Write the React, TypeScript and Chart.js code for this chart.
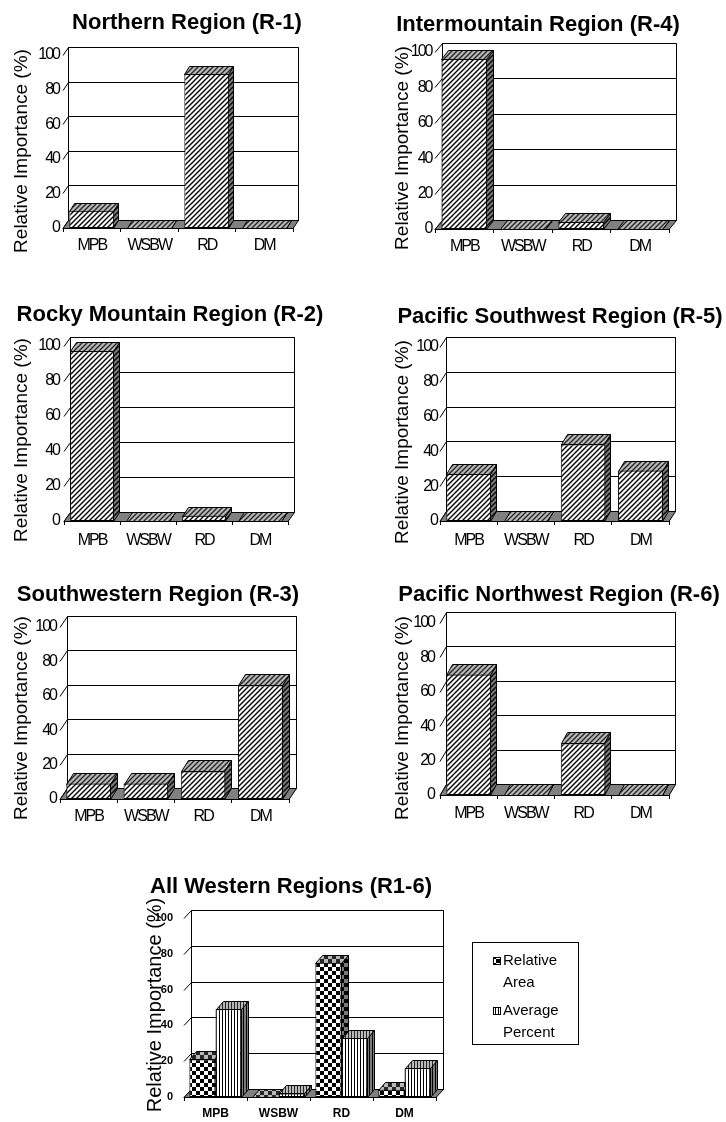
import React, { useEffect, useRef } from 'react';
import { Chart, registerables } from 'chart.js';

Chart.register(...registerables);

// ---------------- data ----------------
const categories = ['MPB', 'WSBW', 'RD', 'DM'];
const northernValues = [10, 0, 89, 0];
const intermountainValues = [96, 0, 4, 0];
const rockyMountainValues = [97, 0, 3, 0];
const pacificSouthwestValues = [27, 0, 44, 29];
const southwesternValues = [9, 9, 16, 66];
const pacificNorthwestValues = [70, 0, 30, 0];
const relativeAreaValues = [21, 0, 75, 4];
const averagePercentValues = [49, 2, 33, 16];
const yMin = 0;
const yMax = 100;
const yStep = 20;
const yAxisLabel = 'Relative Importance (%)';
const seriesNames = ['Relative Area', 'Average Percent'];
const legendLines = [['Relative', 'Area'], ['Average', 'Percent']];

// ---------------- styling / layout ----------------
const FONT = "'Liberation Sans', Arial, Helvetica, sans-serif";

type Kind = 'diag' | 'checker' | 'vstripe';

function makePattern(kind: Kind, bg: string, fg: string): any {
  const c = document.createElement('canvas');
  const g = c.getContext('2d')!;
  if (kind === 'diag') {
    const s = 5;
    c.width = s; c.height = s;
    g.fillStyle = bg; g.fillRect(0, 0, s, s);
    g.strokeStyle = fg; g.lineWidth = 1.4;
    g.beginPath();
    g.moveTo(-1, s + 1); g.lineTo(s + 1, -1);
    g.moveTo(-1, 1); g.lineTo(1, -1);
    g.moveTo(s - 1, s + 1); g.lineTo(s + 1, s - 1);
    g.stroke();
  } else if (kind === 'checker') {
    const s = 8;
    c.width = s; c.height = s;
    g.fillStyle = bg; g.fillRect(0, 0, s, s);
    g.fillStyle = fg; g.fillRect(0, 0, 4, 4); g.fillRect(4, 4, 4, 4);
  } else {
    c.width = 3; c.height = 3;
    g.fillStyle = bg; g.fillRect(0, 0, 3, 3);
    g.fillStyle = fg; g.fillRect(0, 0, 1, 3);
  }
  return g.createPattern(c, 'repeat');
}

interface Series { label: string; data: number[]; kind: Kind }
interface PanelDef {
  title: string;
  series: Series[];
  box: number[]; // left, top, width, height (page px)
  front: number[]; // fx0, fx1, fyTop, fy0
  depth: number[]; // dx, dy
  titleAt: number[];
  yLabelAt: number[];
  yLabelSize: number;
  catPct: number;
  labelPad: number;
  tickPad: number;
  summary?: boolean;
}

const panels: PanelDef[] = [
  {
    title: 'Northern Region (R-1)',
    series: [{ label: 'Northern', data: northernValues, kind: 'diag' }],
    box: [0, 0, 363, 275], front: [63, 293, 55, 228], depth: [5, 8],
    titleAt: [187, 29], yLabelAt: [22, 151], yLabelSize: 19, catPct: 0.78, labelPad: 4.4, tickPad: -4,
  },
  {
    title: 'Intermountain Region (R-4)',
    series: [{ label: 'Intermountain', data: intermountainValues, kind: 'diag' }],
    box: [363, 0, 363, 275], front: [435, 669, 52, 229], depth: [7, 9],
    titleAt: [538, 31], yLabelAt: [403, 148], yLabelSize: 19, catPct: 0.78, labelPad: 3.5, tickPad: -4.5,
  },
  {
    title: 'Rocky Mountain Region (R-2)',
    series: [{ label: 'Rocky Mountain', data: rockyMountainValues, kind: 'diag' }],
    box: [0, 280, 363, 280], front: [64, 288, 346, 521], depth: [6, 9],
    titleAt: [170, 321], yLabelAt: [22, 440], yLabelSize: 19, catPct: 0.78, labelPad: 6, tickPad: -3,
  },
  {
    title: 'Pacific Southwest Region (R-5)',
    series: [{ label: 'Pacific Southwest', data: pacificSouthwestValues, kind: 'diag' }],
    box: [363, 280, 363, 280], front: [440, 669, 347, 521], depth: [6, 10],
    titleAt: [560, 323], yLabelAt: [403, 442], yLabelSize: 19, catPct: 0.78, labelPad: 5.5, tickPad: -5,
  },
  {
    title: 'Southwestern Region (R-3)',
    series: [{ label: 'Southwestern', data: southwesternValues, kind: 'diag' }],
    box: [0, 560, 363, 290], front: [60, 289, 627, 799], depth: [7, 11],
    titleAt: [158, 601], yLabelAt: [22, 718], yLabelSize: 19, catPct: 0.78, labelPad: 4, tickPad: -4,
  },
  {
    title: 'Pacific Northwest Region (R-6)',
    series: [{ label: 'Pacific Northwest', data: pacificNorthwestValues, kind: 'diag' }],
    box: [363, 560, 363, 290], front: [440, 669, 623, 795], depth: [6, 11],
    titleAt: [559, 601], yLabelAt: [403, 718], yLabelSize: 19, catPct: 0.78, labelPad: 5, tickPad: -2,
  },
  {
    title: 'All Western Regions (R1-6)',
    series: [
      { label: seriesNames[0], data: relativeAreaValues, kind: 'checker' },
      { label: seriesNames[1], data: averagePercentValues, kind: 'vstripe' },
    ],
    box: [0, 855, 726, 267], front: [184, 436, 918, 1097], depth: [7, 8],
    titleAt: [291, 893], yLabelAt: [155, 1005], yLabelSize: 20, catPct: 0.83, labelPad: 5.5, tickPad: 3,
    summary: true,
  },
];

const LEGEND_BOX = [472.5, 942.5, 106, 102];

function PanelChart({ def }: { def: PanelDef }) {
  const ref = useRef<HTMLCanvasElement>(null);

  useEffect(() => {
    const canvas = ref.current!;
    const [bl, bt, bw, bh] = def.box;
    const [fx0, fx1, fyT, fy0] = def.front;
    const [dx, dy] = def.depth;
    const faces = def.series.map((s) => ({
      front: makePattern(s.kind, '#ffffff', '#000000'),
      top: makePattern(s.kind, '#b8b8b8', '#262626'),
      side: makePattern(s.kind, '#7a7a7a', '#000000'),
    }));

    const poly = (ctx: CanvasRenderingContext2D, pts: number[][], fill: any) => {
      ctx.beginPath();
      ctx.moveTo(pts[0][0], pts[0][1]);
      for (let i = 1; i < pts.length; i++) ctx.lineTo(pts[i][0], pts[i][1]);
      ctx.closePath();
      ctx.fillStyle = fill;
      ctx.fill();
      ctx.stroke();
    };

    const plugin = {
      id: 'excel3d',
      beforeDraw(chart: any) {
        // the original chart's axis text is horizontally squeezed
        if (!def.summary) (chart.ctx as any).letterSpacing = '-2px';
      },
      beforeDatasetsDraw(chart: any) {
        const ctx: CanvasRenderingContext2D = chart.ctx;
        (ctx as any).letterSpacing = '0px';
        const ys = chart.scales.y;
        const a = chart.chartArea;
        const x0 = a.left;
        const x1 = a.right;
        const y0 = ys.getPixelForValue(yMin);
        const yT = ys.getPixelForValue(yMax);
        const bx0 = x0 + dx;
        const bx1 = x1 + dx;
        const by0 = y0 - dy;
        const byT = yT - dy;
        ctx.save();
        ctx.lineWidth = 1;
        ctx.strokeStyle = '#000';
        // back wall
        ctx.fillStyle = '#ffffff';
        ctx.fillRect(bx0, byT, bx1 - bx0, by0 - byT);
        ctx.beginPath();
        for (const t of ys.ticks) {
          const fy = ys.getPixelForValue(t.value);
          const by = Math.round(fy - dy) + 0.5;
          ctx.moveTo(bx0 + 0.5, by);
          ctx.lineTo(bx1 + 0.5, by);
          ctx.moveTo(x0, by + dy);
          ctx.lineTo(bx0 + 0.5, by);
        }
        ctx.rect(bx0 + 0.5, Math.round(byT) + 0.5, bx1 - bx0, Math.round(by0 - byT));
        ctx.stroke();
        // floor
        poly(ctx, [[x0, y0 + 0.5], [x1, y0 + 0.5], [bx1 + 0.5, by0 + 0.5], [bx0 + 0.5, by0 + 0.5]], '#808080');
        // top and side faces of every bar, left to right
        const bars: any[] = [];
        chart.data.datasets.forEach((_ds: any, di: number) => {
          const meta = chart.getDatasetMeta(di);
          meta.data.forEach((el: any) => {
            const p = el.getProps(['x', 'y', 'base', 'width'], true);
            bars.push({ x: p.x, y: p.y, base: p.base, width: p.width, di });
          });
        });
        bars.sort((p, q) => p.x - q.x);
        for (const b of bars) {
          const L = Math.round(b.x - b.width / 2) + 0.5;
          const R = Math.round(b.x + b.width / 2) - 0.5;
          const T = Math.round(Math.min(b.y, b.base)) + 0.5;
          const B = Math.round(Math.max(b.y, b.base)) + 0.5;
          poly(ctx, [[R, T], [R + dx, T - dy], [R + dx, B - dy], [R, B]], faces[b.di].side);
          poly(ctx, [[L, T], [R, T], [R + dx, T - dy], [L + dx, T - dy]], faces[b.di].top);
        }
        ctx.restore();
      },
      afterDraw(chart: any) {
        const ctx: CanvasRenderingContext2D = chart.ctx;
        ctx.save();
        (ctx as any).letterSpacing = '0px';
        ctx.fillStyle = '#000';
        // panel title
        ctx.font = `bold 22px ${FONT}`;
        ctx.textAlign = 'center';
        ctx.textBaseline = 'alphabetic';
        ctx.fillText(def.title, def.titleAt[0] - bl, def.titleAt[1] - bt);
        // y-axis label
        ctx.save();
        ctx.translate(def.yLabelAt[0] - bl, def.yLabelAt[1] - bt);
        ctx.rotate(-Math.PI / 2);
        ctx.font = `${def.yLabelSize}px ${FONT}`;
        ctx.textBaseline = 'middle';
        ctx.fillText(yAxisLabel, 0, 0);
        ctx.restore();
        // legend for the summary panel
        if (def.summary) {
          const [lx, ly, lw, lh] = LEGEND_BOX;
          ctx.fillStyle = '#fff';
          ctx.fillRect(lx - bl, ly - bt, lw, lh);
          ctx.strokeStyle = '#000';
          ctx.lineWidth = 1;
          ctx.strokeRect(lx - bl, ly - bt, lw, lh);
          ctx.font = `15px ${FONT}`;
          ctx.textAlign = 'left';
          ctx.textBaseline = 'middle';
          const rows = [961, 1011];
          def.series.forEach((_s, i) => {
            const ry = rows[i] - bt;
            ctx.fillStyle = faces[i].front;
            ctx.fillRect(493 - bl, ry - 4, 8, 8);
            ctx.strokeRect(493.5 - bl, ry - 3.5, 7, 7);
            ctx.fillStyle = '#000';
            ctx.fillText(legendLines[i][0], 503 - bl, ry);
            ctx.fillText(legendLines[i][1], 503 - bl, ry + 22);
          });
        }
        ctx.restore();
      },
    };

    const tickFont = def.summary
      ? { family: FONT, size: 11, weight: 'bold' as const }
      : { family: FONT, size: 16 };
    const catFont = def.summary
      ? { family: FONT, size: 12, weight: 'bold' as const }
      : { family: FONT, size: 16 };

    const chart = new Chart(canvas, {
      type: 'bar',
      data: {
        labels: categories,
        datasets: def.series.map((s, i) => ({
          label: s.label,
          data: s.data,
          backgroundColor: faces[i].front,
          borderColor: '#000000',
          borderWidth: 1,
          borderSkipped: false,
          categoryPercentage: def.catPct,
          barPercentage: 1,
        })),
      },
      options: {
        responsive: false,
        animation: false,
        devicePixelRatio: 1,
        layout: {
          padding: { left: 0, right: bl + bw - fx1, top: fyT - bt, bottom: 0 },
        },
        plugins: {
          legend: { display: false },
          title: { display: false },
          tooltip: { enabled: false },
        },
        scales: {
          x: {
            grid: { display: true, drawOnChartArea: false, drawTicks: true, tickLength: 4, color: '#000', offset: true },
            border: { display: false },
            ticks: { color: '#000', font: catFont, padding: def.labelPad, maxRotation: 0, autoSkip: false },
            afterFit: (s: any) => { s.height = bt + bh - fy0; },
          },
          y: {
            min: yMin,
            max: yMax,
            ticks: { stepSize: yStep, color: '#000', font: tickFont, padding: def.tickPad },
            grid: { display: false },
            border: { display: false },
            afterFit: (s: any) => { s.width = fx0 - bl; },
          },
        },
      } as any,
      plugins: [plugin as any],
    });
    return () => chart.destroy();
  }, [def]);

  const [bl, bt, bw, bh] = def.box;
  return (
    <canvas
      ref={ref}
      width={bw}
      height={bh}
      style={{ position: 'absolute', left: bl, top: bt, width: bw, height: bh }}
    />
  );
}

export default function App() {
  return (
    <div style={{ position: 'absolute', left: 0, top: 0, width: 726, height: 1122, background: '#fff' }}>
      {panels.map((p) => (
        <PanelChart key={p.title} def={p} />
      ))}
    </div>
  );
}
